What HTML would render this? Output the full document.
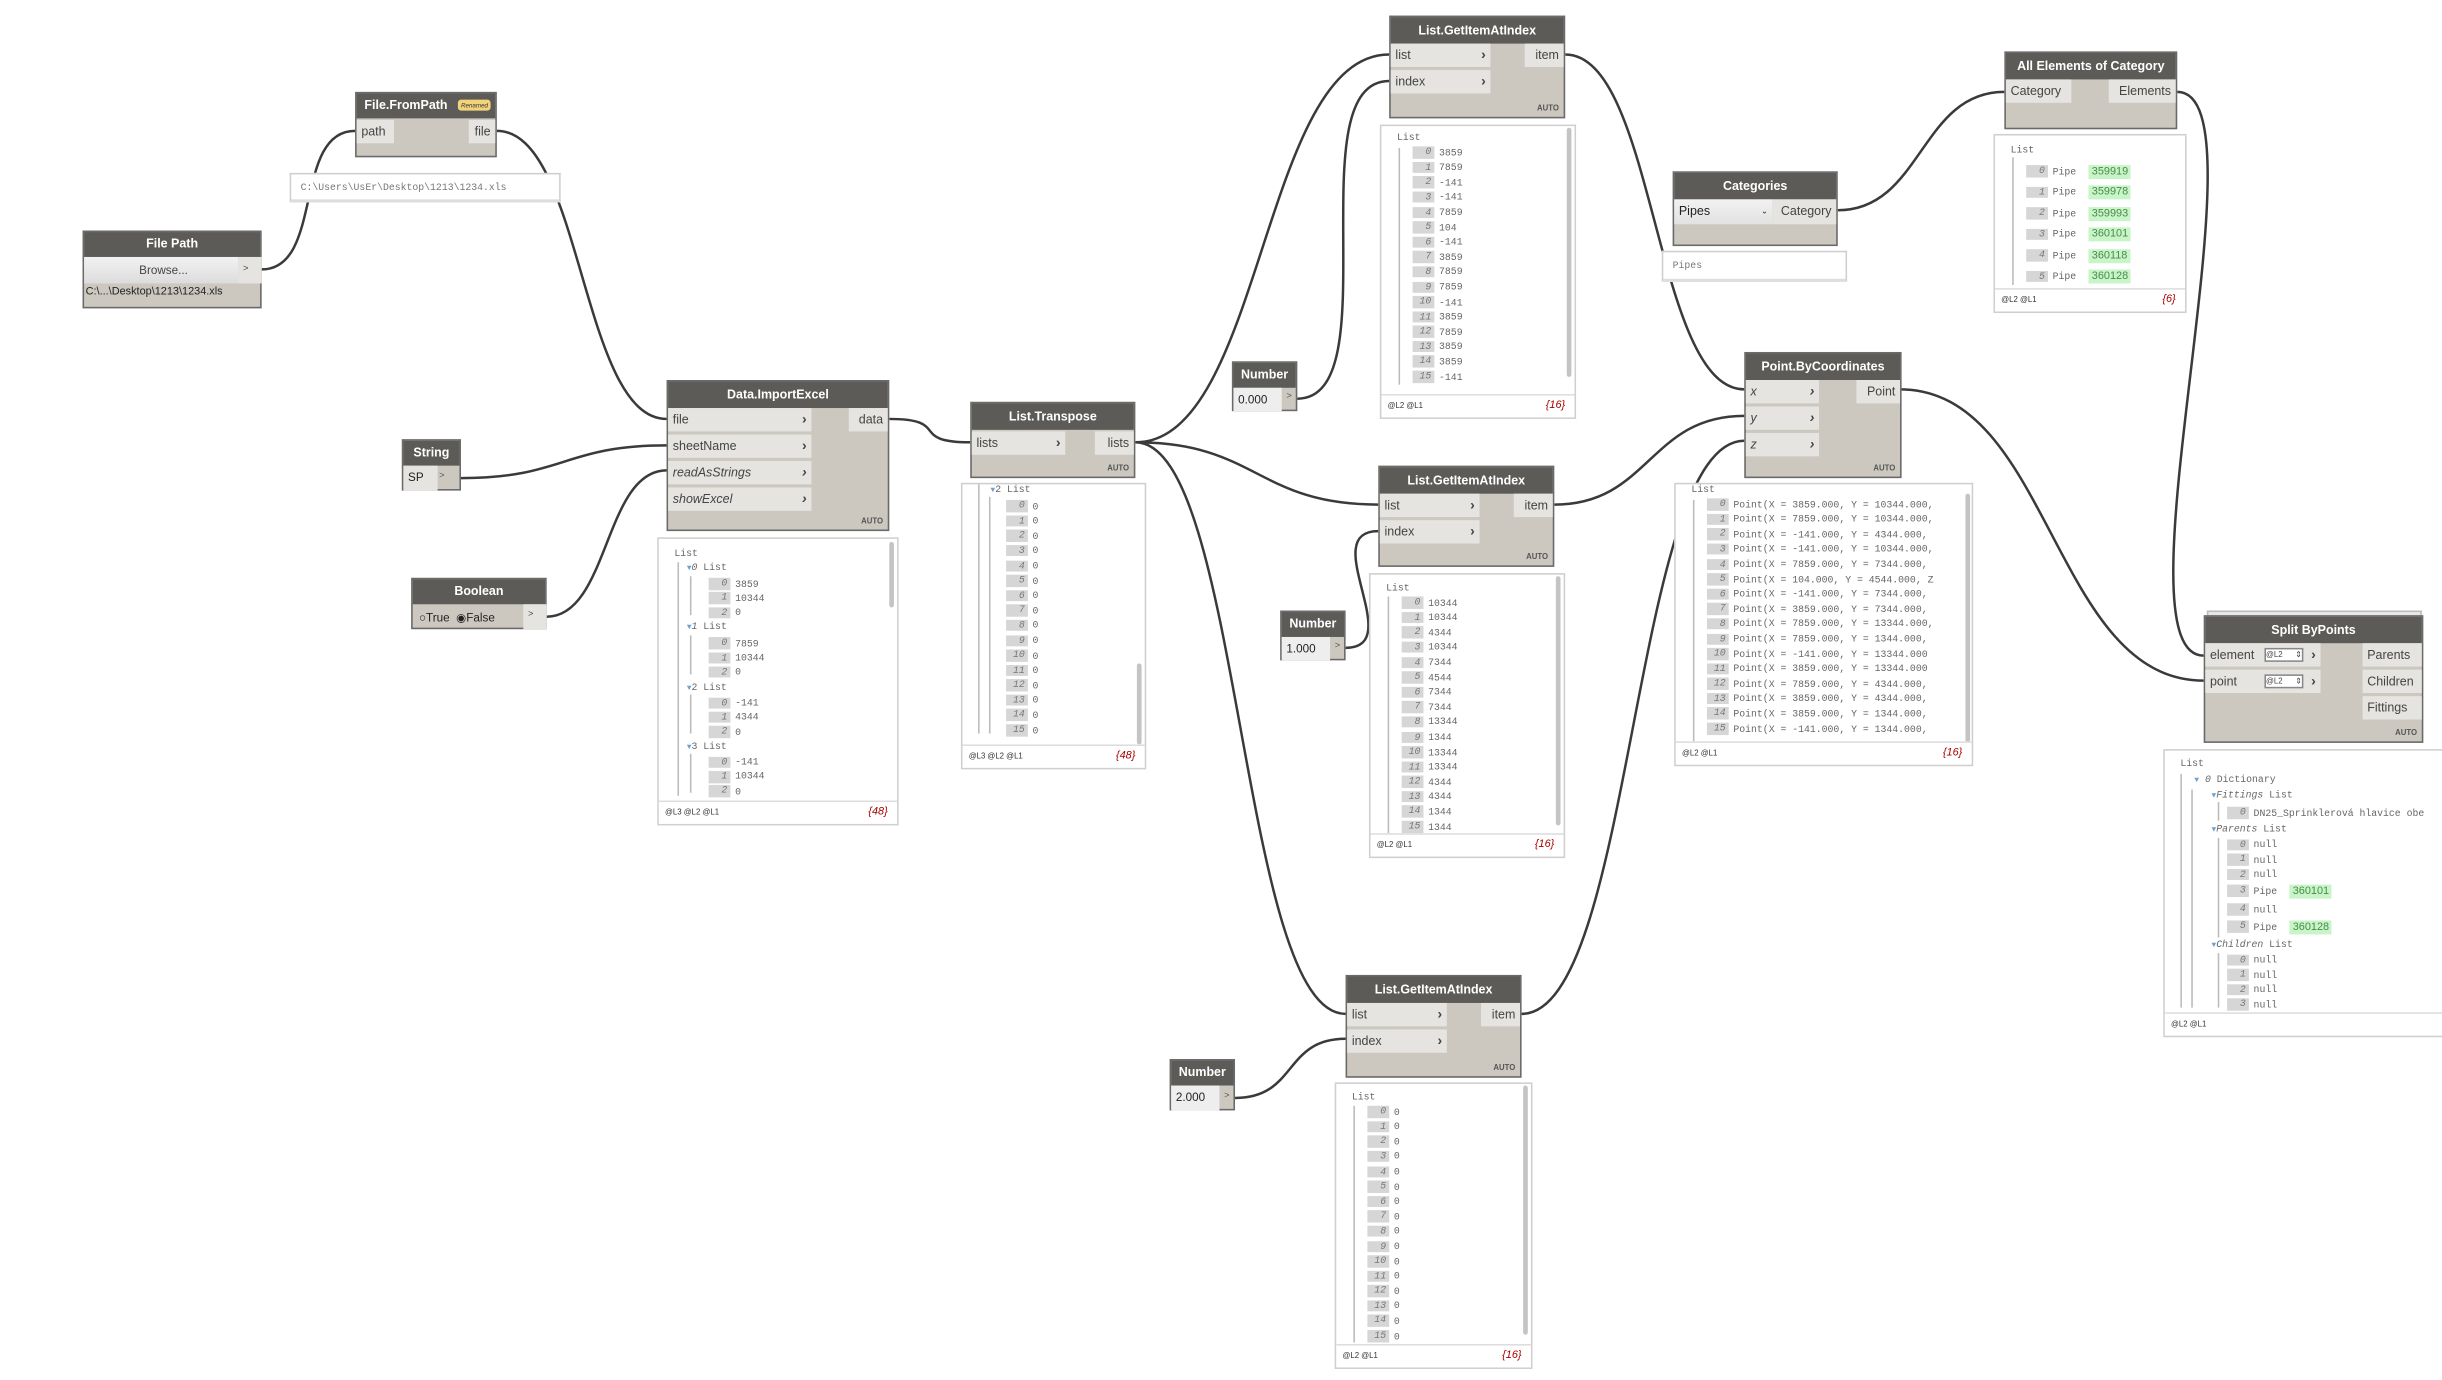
<!DOCTYPE html>
<html><head><meta charset="utf-8">
<style>
html,body{margin:0;padding:0;background:#fff;width:2442px;height:1380px;overflow:hidden}
#c{position:absolute;left:0;top:0;width:1568px;height:886px;transform:scale(1.5574);transform-origin:0 0;font-family:"Liberation Sans",sans-serif}
.n{position:absolute;background:#ccc8c0;border:1px solid #6a6a6a;box-sizing:border-box}
.hd{position:absolute;left:0;right:0;top:0;height:16px;background:#5c5b58;color:#fff;font-weight:bold;font-size:8px;line-height:16px;text-align:center;white-space:nowrap}
.p{position:absolute;background:#e6e4e0;height:15px;line-height:15px;font-size:8px;color:#444;padding-left:3px;box-sizing:border-box;white-space:nowrap}
.p b{position:absolute;right:3px;top:0;font-size:9px;color:#444}
.o{position:absolute;background:#e6e4e0;height:15px;line-height:15px;font-size:8px;color:#444;text-align:right;padding-right:3px;box-sizing:border-box}
.au{position:absolute;right:3px;bottom:2px;font-size:5px;font-weight:bold;color:#555}
.pv{position:absolute;background:#fff;border:1px solid #cfcfcf;box-sizing:border-box;font-family:"Liberation Mono",monospace;font-size:6.3px;color:#666;overflow:hidden}
.ls{position:absolute;line-height:9.6px;white-space:nowrap}
.ls i{display:inline-block;background:#d6d6d6;color:#777;font-style:italic;min-width:14px;text-align:right;padding-right:2px;margin-right:3px;height:7.5px;line-height:7.5px;vertical-align:middle;box-sizing:border-box}
.ft{position:absolute;left:0;right:0;bottom:0;height:14px;border-top:1px solid #ddd;font-size:5px;font-family:"Liberation Sans",sans-serif;color:#333;line-height:14px;padding-left:4px;background:#fff}
.ft span{position:absolute;right:6px;top:0;font-size:7px;color:#a00;font-style:italic}
.sb{position:absolute;width:3px;background:#c4c4c4;border-radius:2px}
.tl{position:absolute;width:1px;background:#bbb}
.g{display:inline-block;background:#c8f5c8;color:#4a8a4a;padding:0 2px;margin-left:8px;font-family:"Liberation Sans",sans-serif;font-size:7px;line-height:9px}
.tri{color:#6ea0d0;font-size:5px}
</style></head><body><div id="c">

<svg width="1568" height="886" style="position:absolute;left:0;top:0" fill="none" stroke="#3a3a3a" stroke-width="1.6">
<path d="M168 173 C208 173 188 84 228 84"/>
<path d="M319 84 C374 84 373 269 428 269"/>
<path d="M296 307 C362 307 362 286 428 286"/>
<path d="M351 396 C391 396 388 302 428 302"/>
<path d="M571 269 C611 269 583 284 623 284"/>
<path d="M729 284 C811 284 810 35 892 35"/>
<path d="M729 284 C807 284 807 324 885 324"/>
<path d="M729 284 C797 284 796 651 864 651"/>
<path d="M833 256 C893 256 832 52 892 52"/>
<path d="M864 416 C904 416 845 341 885 341"/>
<path d="M793 705 C833 705 824 667 864 667"/>
<path d="M1005 35 C1063 35 1062 250 1120 250"/>
<path d="M998 324 C1059 324 1059 267 1120 267"/>
<path d="M977 651 C1049 651 1048 283 1120 283"/>
<path d="M1180 135 C1234 135 1233 59 1287 59"/>
<path d="M1398 59 C1458 59 1355 421 1415 421"/>
<path d="M1220 250 C1317 250 1318 437 1415 437"/>
</svg>

<div class="n" style="left:53px;top:148px;width:115px;height:50px">
<div class="hd">File Path</div>
<div class="p" style="left:0;top:16px;width:99px;height:17px;line-height:17px;text-align:center;background:linear-gradient(#f2f2f2,#dcdcdc);font-size:7.5px">Browse...</div>
<div class="p" style="left:99px;top:16px;width:15px;height:17px;line-height:17px;font-size:6px">&gt;</div>
<div style="position:absolute;left:1px;top:35px;font-size:7px;color:#222">C:\...\Desktop\1213\1234.xls</div>
</div>

<div class="n" style="left:228px;top:59px;width:91px;height:42px">
<div class="hd" style="text-align:left;padding-left:5px">File.FromPath</div>
<div style="position:absolute;left:65px;top:4px;background:#f2d27a;border-radius:2px;font-size:4px;padding:1px 2px;color:#333;font-style:italic">Renamed</div>
<div class="p" style="left:0;top:17px;width:24px">path</div>
<div class="o" style="right:0;top:17px;width:17px">file</div>
</div>
<div class="pv" style="left:186px;top:111px;width:174px;height:19px;border-bottom:2px solid #ddd"><div style="position:absolute;left:6px;top:5px;color:#777">C:\Users\UsEr\Desktop\1213\1234.xls</div></div>

<div class="n" style="left:258px;top:282px;width:38px;height:33px">
<div class="hd">String</div>
<div class="p" style="left:0;top:16px;width:22px;height:16px;font-size:7.5px;color:#222">SP</div>
<div style="position:absolute;left:23px;top:20px;font-size:6px;color:#555">&gt;</div>
</div>

<div class="n" style="left:264px;top:371px;width:87px;height:33px">
<div class="hd">Boolean</div>
<div style="position:absolute;left:4px;top:20px;font-size:7.5px;color:#222">○True &nbsp;◉False</div>
<div class="p" style="left:71px;top:16px;width:15px;height:16px;font-size:6px">&gt;</div>
</div>

<div class="n" style="left:428px;top:244px;width:143px;height:97px">
<div class="hd" style="height:17px;line-height:17px">Data.ImportExcel</div>
<div class="p" style="left:0;top:17px;width:92px">file<b>›</b></div>
<div class="p" style="left:0;top:34px;width:92px">sheetName<b>›</b></div>
<div class="p" style="left:0;top:51px;width:92px;font-style:italic">readAsStrings<b>›</b></div>
<div class="p" style="left:0;top:68px;width:92px;font-style:italic">showExcel<b>›</b></div>
<div class="o" style="right:0;top:17px;width:25px">data</div>
<div class="au">AUTO</div>
</div>
<div class="pv" style="left:422px;top:345px;width:155px;height:185px">
<div class="sb" style="left:148px;top:2px;height:42px"></div>
<div class="tl" style="left:12px;top:15px;height:150px"></div>
<div class="tl" style="left:20px;top:24px;height:25px"></div>
<div class="tl" style="left:20px;top:62px;height:25px"></div>
<div class="tl" style="left:20px;top:100px;height:25px"></div>
<div class="tl" style="left:20px;top:138px;height:25px"></div>
<div class="ls" style="left:10px;top:5px;line-height:9.3px">List<br>
<span style="margin-left:8px"><span class="tri">▼</span><em>0</em> List</span><br>
<span style="margin-left:22px"><i>0</i>3859</span><br>
<span style="margin-left:22px"><i>1</i>10344</span><br>
<span style="margin-left:22px"><i>2</i>0</span><br>
<span style="margin-left:8px"><span class="tri">▼</span><em>1</em> List</span><br>
<span style="margin-left:22px"><i>0</i>7859</span><br>
<span style="margin-left:22px"><i>1</i>10344</span><br>
<span style="margin-left:22px"><i>2</i>0</span><br>
<span style="margin-left:8px"><span class="tri">▼</span>2 List</span><br>
<span style="margin-left:22px"><i>0</i>-141</span><br>
<span style="margin-left:22px"><i>1</i>4344</span><br>
<span style="margin-left:22px"><i>2</i>0</span><br>
<span style="margin-left:8px"><span class="tri">▼</span>3 List</span><br>
<span style="margin-left:22px"><i>0</i>-141</span><br>
<span style="margin-left:22px"><i>1</i>10344</span><br>
<span style="margin-left:22px"><i>2</i>0</span></div>
<div class="ft">@L3 @L2 @L1<span>{48}</span></div>
</div>

<div class="n" style="left:623px;top:258px;width:106px;height:49px">
<div class="hd" style="height:17px;line-height:17px">List.Transpose</div>
<div class="p" style="left:0;top:18px;width:60px">lists<b>›</b></div>
<div class="o" style="right:0;top:18px;width:25px">lists</div>
<div class="au">AUTO</div>
</div>
<div class="pv" style="left:617px;top:310px;width:119px;height:184px">
<div class="sb" style="left:112px;top:115px;height:52px"></div>
<div class="tl" style="left:10px;top:0;height:160px"></div>
<div class="tl" style="left:17px;top:8px;height:152px"></div>
<div class="ls" style="left:18px;top:-1px"><span class="tri">▼</span>2 List<br>
<span style="margin-left:10px"><i>0</i>0</span><br><span style="margin-left:10px"><i>1</i>0</span><br><span style="margin-left:10px"><i>2</i>0</span><br><span style="margin-left:10px"><i>3</i>0</span><br><span style="margin-left:10px"><i>4</i>0</span><br><span style="margin-left:10px"><i>5</i>0</span><br><span style="margin-left:10px"><i>6</i>0</span><br><span style="margin-left:10px"><i>7</i>0</span><br><span style="margin-left:10px"><i>8</i>0</span><br><span style="margin-left:10px"><i>9</i>0</span><br><span style="margin-left:10px"><i>10</i>0</span><br><span style="margin-left:10px"><i>11</i>0</span><br><span style="margin-left:10px"><i>12</i>0</span><br><span style="margin-left:10px"><i>13</i>0</span><br><span style="margin-left:10px"><i>14</i>0</span><br><span style="margin-left:10px"><i>15</i>0</span></div>
<div class="ft">@L3 @L2 @L1<span>{48}</span></div>
</div>

<div class="n" style="left:791px;top:232px;width:42px;height:32px">
<div class="hd">Number</div>
<div class="p" style="left:0;top:16px;width:31px;height:15px;font-size:7.5px;color:#222;background:#eee">0.000</div>
<div style="position:absolute;left:34px;top:19px;font-size:6px;color:#555">&gt;</div>
</div>
<div class="n" style="left:822px;top:392px;width:42px;height:32px">
<div class="hd">Number</div>
<div class="p" style="left:0;top:16px;width:31px;height:15px;font-size:7.5px;color:#222;background:#eee">1.000</div>
<div style="position:absolute;left:34px;top:19px;font-size:6px;color:#555">&gt;</div>
</div>
<div class="n" style="left:751px;top:680px;width:42px;height:33px">
<div class="hd">Number</div>
<div class="p" style="left:0;top:16px;width:31px;height:16px;font-size:7.5px;color:#222;background:#eee">2.000</div>
<div style="position:absolute;left:34px;top:20px;font-size:6px;color:#555">&gt;</div>
</div>

<div class="n" style="left:892px;top:10px;width:113px;height:66px">
<div class="hd" style="height:17px;line-height:17px">List.GetItemAtIndex</div>
<div class="p" style="left:0;top:17px;width:64px">list<b>›</b></div>
<div class="p" style="left:0;top:34px;width:64px">index<b>›</b></div>
<div class="o" style="right:0;top:17px;width:25px">item</div>
<div class="au">AUTO</div>
</div>
<div class="pv" style="left:886px;top:80px;width:126px;height:189px">
<div class="sb" style="left:119px;top:1px;height:160px"></div>
<div class="tl" style="left:11px;top:14px;height:152px"></div>
<div class="ls" style="left:10px;top:3px">List<br>
<span style="margin-left:10px"><i>0</i>3859</span><br><span style="margin-left:10px"><i>1</i>7859</span><br><span style="margin-left:10px"><i>2</i>-141</span><br><span style="margin-left:10px"><i>3</i>-141</span><br><span style="margin-left:10px"><i>4</i>7859</span><br><span style="margin-left:10px"><i>5</i>104</span><br><span style="margin-left:10px"><i>6</i>-141</span><br><span style="margin-left:10px"><i>7</i>3859</span><br><span style="margin-left:10px"><i>8</i>7859</span><br><span style="margin-left:10px"><i>9</i>7859</span><br><span style="margin-left:10px"><i>10</i>-141</span><br><span style="margin-left:10px"><i>11</i>3859</span><br><span style="margin-left:10px"><i>12</i>7859</span><br><span style="margin-left:10px"><i>13</i>3859</span><br><span style="margin-left:10px"><i>14</i>3859</span><br><span style="margin-left:10px"><i>15</i>-141</span></div>
<div class="ft">@L2 @L1<span>{16}</span></div>
</div>

<div class="n" style="left:885px;top:299px;width:113px;height:65px">
<div class="hd" style="height:17px;line-height:17px">List.GetItemAtIndex</div>
<div class="p" style="left:0;top:17px;width:64px">list<b>›</b></div>
<div class="p" style="left:0;top:34px;width:64px">index<b>›</b></div>
<div class="o" style="right:0;top:17px;width:25px">item</div>
<div class="au">AUTO</div>
</div>
<div class="pv" style="left:879px;top:368px;width:126px;height:183px">
<div class="sb" style="left:119px;top:1px;height:160px"></div>
<div class="tl" style="left:11px;top:14px;height:152px"></div>
<div class="ls" style="left:10px;top:4px">List<br>
<span style="margin-left:10px"><i>0</i>10344</span><br><span style="margin-left:10px"><i>1</i>10344</span><br><span style="margin-left:10px"><i>2</i>4344</span><br><span style="margin-left:10px"><i>3</i>10344</span><br><span style="margin-left:10px"><i>4</i>7344</span><br><span style="margin-left:10px"><i>5</i>4544</span><br><span style="margin-left:10px"><i>6</i>7344</span><br><span style="margin-left:10px"><i>7</i>7344</span><br><span style="margin-left:10px"><i>8</i>13344</span><br><span style="margin-left:10px"><i>9</i>1344</span><br><span style="margin-left:10px"><i>10</i>13344</span><br><span style="margin-left:10px"><i>11</i>13344</span><br><span style="margin-left:10px"><i>12</i>4344</span><br><span style="margin-left:10px"><i>13</i>4344</span><br><span style="margin-left:10px"><i>14</i>1344</span><br><span style="margin-left:10px"><i>15</i>1344</span></div>
<div class="ft">@L2 @L1<span>{16}</span></div>
</div>

<div class="n" style="left:864px;top:626px;width:113px;height:66px">
<div class="hd" style="height:17px;line-height:17px">List.GetItemAtIndex</div>
<div class="p" style="left:0;top:17px;width:64px">list<b>›</b></div>
<div class="p" style="left:0;top:34px;width:64px">index<b>›</b></div>
<div class="o" style="right:0;top:17px;width:25px">item</div>
<div class="au">AUTO</div>
</div>
<div class="pv" style="left:857px;top:695px;width:127px;height:184px">
<div class="sb" style="left:120px;top:1px;height:160px"></div>
<div class="tl" style="left:11px;top:14px;height:152px"></div>
<div class="ls" style="left:10px;top:4px">List<br>
<span style="margin-left:10px"><i>0</i>0</span><br><span style="margin-left:10px"><i>1</i>0</span><br><span style="margin-left:10px"><i>2</i>0</span><br><span style="margin-left:10px"><i>3</i>0</span><br><span style="margin-left:10px"><i>4</i>0</span><br><span style="margin-left:10px"><i>5</i>0</span><br><span style="margin-left:10px"><i>6</i>0</span><br><span style="margin-left:10px"><i>7</i>0</span><br><span style="margin-left:10px"><i>8</i>0</span><br><span style="margin-left:10px"><i>9</i>0</span><br><span style="margin-left:10px"><i>10</i>0</span><br><span style="margin-left:10px"><i>11</i>0</span><br><span style="margin-left:10px"><i>12</i>0</span><br><span style="margin-left:10px"><i>13</i>0</span><br><span style="margin-left:10px"><i>14</i>0</span><br><span style="margin-left:10px"><i>15</i>0</span></div>
<div class="ft">@L2 @L1<span>{16}</span></div>
</div>

<div class="n" style="left:1074px;top:110px;width:106px;height:48px">
<div class="hd" style="height:17px;line-height:17px">Categories</div>
<div class="p" style="left:0;top:17px;width:63px;height:16px;line-height:16px;color:#222;background:linear-gradient(#f2f2f2,#e2e2e2)">Pipes<span style="position:absolute;right:3px;font-size:5px">⌄</span></div>
<div class="o" style="right:0;top:17px;width:41px;height:16px;line-height:16px">Category</div>
</div>
<div class="pv" style="left:1067px;top:161px;width:119px;height:20px;border-bottom:2px solid #ddd"><div style="position:absolute;left:6px;top:5px;color:#777">Pipes</div></div>

<div class="n" style="left:1287px;top:33px;width:111px;height:50px">
<div class="hd" style="height:17px;line-height:17px">All Elements of Category</div>
<div class="p" style="left:0;top:17px;width:42px">Category</div>
<div class="o" style="right:0;top:17px;width:43px">Elements</div>
</div>
<div class="pv" style="left:1280px;top:86px;width:124px;height:115px">
<div class="tl" style="left:11px;top:14px;height:82px"></div>
<div class="ls" style="left:10px;top:3px;line-height:13.5px">List<br>
<span style="margin-left:10px"><i>0</i>Pipe<span class="g">359919</span></span><br>
<span style="margin-left:10px"><i>1</i>Pipe<span class="g">359978</span></span><br>
<span style="margin-left:10px"><i>2</i>Pipe<span class="g">359993</span></span><br>
<span style="margin-left:10px"><i>3</i>Pipe<span class="g">360101</span></span><br>
<span style="margin-left:10px"><i>4</i>Pipe<span class="g">360118</span></span><br>
<span style="margin-left:10px"><i>5</i>Pipe<span class="g">360128</span></span></div>
<div class="ft">@L2 @L1<span>{6}</span></div>
</div>

<div class="n" style="left:1120px;top:226px;width:101px;height:81px">
<div class="hd" style="height:17px;line-height:17px">Point.ByCoordinates</div>
<div class="p" style="left:0;top:17px;width:47px;font-style:italic">x<b>›</b></div>
<div class="p" style="left:0;top:34px;width:47px;font-style:italic">y<b>›</b></div>
<div class="p" style="left:0;top:51px;width:47px;font-style:italic">z<b>›</b></div>
<div class="o" style="right:0;top:17px;width:28px">Point</div>
<div class="au">AUTO</div>
</div>
<div class="pv" style="left:1075px;top:310px;width:192px;height:182px">
<div class="sb" style="left:186px;top:6px;height:160px"></div>
<div class="tl" style="left:11px;top:10px;height:155px"></div>
<div class="ls" style="left:10px;top:-1px">List<br>
<span style="margin-left:10px"><i>0</i>Point(X = 3859.000, Y = 10344.000,</span><br>
<span style="margin-left:10px"><i>1</i>Point(X = 7859.000, Y = 10344.000,</span><br>
<span style="margin-left:10px"><i>2</i>Point(X = -141.000, Y = 4344.000,</span><br>
<span style="margin-left:10px"><i>3</i>Point(X = -141.000, Y = 10344.000,</span><br>
<span style="margin-left:10px"><i>4</i>Point(X = 7859.000, Y = 7344.000,</span><br>
<span style="margin-left:10px"><i>5</i>Point(X = 104.000, Y = 4544.000, Z</span><br>
<span style="margin-left:10px"><i>6</i>Point(X = -141.000, Y = 7344.000,</span><br>
<span style="margin-left:10px"><i>7</i>Point(X = 3859.000, Y = 7344.000,</span><br>
<span style="margin-left:10px"><i>8</i>Point(X = 7859.000, Y = 13344.000,</span><br>
<span style="margin-left:10px"><i>9</i>Point(X = 7859.000, Y = 1344.000,</span><br>
<span style="margin-left:10px"><i>10</i>Point(X = -141.000, Y = 13344.000</span><br>
<span style="margin-left:10px"><i>11</i>Point(X = 3859.000, Y = 13344.000</span><br>
<span style="margin-left:10px"><i>12</i>Point(X = 7859.000, Y = 4344.000,</span><br>
<span style="margin-left:10px"><i>13</i>Point(X = 3859.000, Y = 4344.000,</span><br>
<span style="margin-left:10px"><i>14</i>Point(X = 3859.000, Y = 1344.000,</span><br>
<span style="margin-left:10px"><i>15</i>Point(X = -141.000, Y = 1344.000,</span></div>
<div class="ft">@L2 @L1<span>{16}</span></div>
</div>

<div style="position:absolute;left:1417px;top:392px;width:136px;height:4px;border:1px solid #bbb;border-bottom:none;background:#e8e8e8"></div>
<div class="n" style="left:1415px;top:395px;width:141px;height:82px">
<div class="hd" style="height:17px;line-height:17px">Split ByPoints</div>
<div class="p" style="left:0;top:17px;width:74px">element<span style="position:absolute;left:38px;top:3px;width:25px;height:9px;background:#fff;border:1px solid #888;box-sizing:border-box;font-size:5px;line-height:8px">@L2 <span style="float:right">⇕</span></span><b>›</b></div>
<div class="p" style="left:0;top:34px;width:74px">point<span style="position:absolute;left:38px;top:3px;width:25px;height:9px;background:#fff;border:1px solid #888;box-sizing:border-box;font-size:5px;line-height:8px">@L2 <span style="float:right">⇕</span></span><b>›</b></div>
<div class="o" style="right:0;top:17px;width:38px;text-align:left;padding-left:3px">Parents</div>
<div class="o" style="right:0;top:34px;width:38px;text-align:left;padding-left:3px">Children</div>
<div class="o" style="right:0;top:51px;width:38px;text-align:left;padding-left:3px">Fittings</div>
<div class="au">AUTO</div>
</div>
<div class="pv" style="left:1389px;top:481px;width:190px;height:185px">
<div class="tl" style="left:10px;top:15px;height:150px"></div>
<div class="tl" style="left:17px;top:25px;height:140px"></div>
<div class="tl" style="left:34px;top:33px;height:12px"></div>
<div class="tl" style="left:34px;top:56px;height:64px"></div>
<div class="tl" style="left:34px;top:130px;height:35px"></div>
<div class="ls" style="left:10px;top:4px;line-height:9.5px">List<br>
<span style="margin-left:9px"><span class="tri">▼</span> <em>0</em> Dictionary</span><br>
<span style="margin-left:20px"><span class="tri">▼</span><em>Fittings</em> List</span><br>
<span style="margin-left:30px;line-height:11px"><i>0</i>DN25_Sprinklerová hlavice obe</span><br>
<span style="margin-left:20px"><span class="tri">▼</span><em>Parents</em> List</span><br>
<span style="margin-left:30px"><i>0</i>null</span><br>
<span style="margin-left:30px"><i>1</i>null</span><br>
<span style="margin-left:30px"><i>2</i>null</span><br>
<span style="margin-left:30px;line-height:12px"><i>3</i>Pipe<span class="g">360101</span></span><br>
<span style="margin-left:30px;line-height:11px"><i>4</i>null</span><br>
<span style="margin-left:30px;line-height:12px"><i>5</i>Pipe<span class="g">360128</span></span><br>
<span style="margin-left:20px"><span class="tri">▼</span><em>Children</em> List</span><br>
<span style="margin-left:30px"><i>0</i>null</span><br>
<span style="margin-left:30px"><i>1</i>null</span><br>
<span style="margin-left:30px"><i>2</i>null</span><br>
<span style="margin-left:30px"><i>3</i>null</span></div>
<div class="ft">@L2 @L1</div>
</div>

</div></body></html>
